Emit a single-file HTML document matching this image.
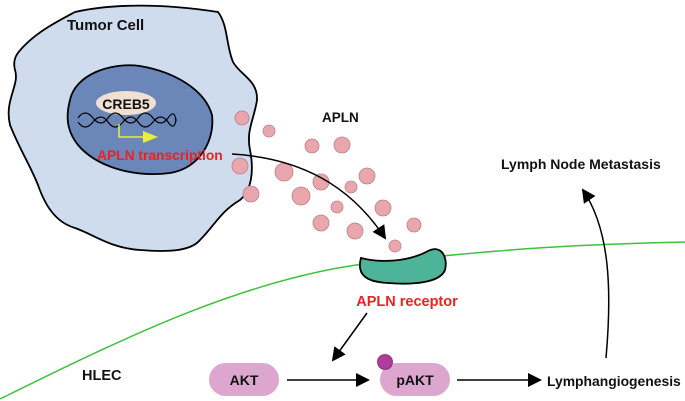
<!DOCTYPE html>
<html><head><meta charset="utf-8"><style>
html,body{margin:0;padding:0;background:#fff;}
svg{display:block;font-family:"Liberation Sans",Arial,sans-serif;font-weight:bold;}
</style></head><body>
<svg width="685" height="401" viewBox="0 0 685 401" xmlns="http://www.w3.org/2000/svg">
<defs>
<marker id="ah2" markerWidth="14" markerHeight="14" refX="12" refY="7" orient="auto" markerUnits="userSpaceOnUse"><path d="M0,0 L14,7 L0,14 Z" fill="#000"/></marker>
</defs>
<path d="M0,399 C120,340 250,275 380,262 S560,245 685,242" fill="none" stroke="#3cc23c" stroke-width="1.5"/>
<path d="M25,45 C40,30 60,20 75,12 C110,4 160,3 218,12 C228,25 226,45 233,62 C240,75 258,80 257,100 C254,120 246,130 250,150 C254,170 252,190 240,200 C220,212 215,225 200,240 C190,252 165,252 140,250 C110,248 95,235 75,228 C55,222 45,205 38,185 C30,165 20,150 10,125 C4,100 20,85 15,70 C12,58 18,52 25,45 Z" fill="#cedcee" stroke="#000" stroke-width="1.8"/>
<path d="M70,100 C75,75 110,62 140,66 C175,72 205,90 212,115 C215,140 200,168 170,173 C130,178 95,165 78,145 C66,130 66,115 70,100 Z" fill="#6b86b8" stroke="#000" stroke-width="1.8"/>
<ellipse cx="126" cy="103" rx="30" ry="12" fill="#f0dfd3"/>
<text x="126" y="109" font-size="14" text-anchor="middle" fill="#111">CREB5</text>
<path d="M78,118 Q85,108 93,118 T108,118 T123,118 T138,118 T153,118 T168,118 T176,122" fill="none" stroke="#000" stroke-width="1.2"/>
<path d="M78,122 Q85,132 93,122 T108,122 T123,122 T138,122 T153,122 T168,122 T176,118" fill="none" stroke="#000" stroke-width="1.2"/>
<path d="M119,124 V137 H145" fill="none" stroke="#e6f03a" stroke-width="1.5"/>
<path d="M143,131 L158,137 L143,143 Z" fill="#e6f03a"/>
<text x="97" y="160" font-size="13.8" fill="#ee2020">APLN transcription</text>
<text x="67" y="30" font-size="15" fill="#111">Tumor Cell</text>
<g fill="#e9a6ad" stroke="#b98088" stroke-width="0.8">
<circle cx="242" cy="118" r="7"/><circle cx="269" cy="131" r="6"/><circle cx="312" cy="146" r="7"/><circle cx="342" cy="145" r="8"/>
<circle cx="240" cy="166" r="8"/><circle cx="284" cy="172" r="9"/><circle cx="321" cy="182" r="8"/><circle cx="351" cy="187" r="6"/>
<circle cx="367" cy="176" r="8"/><circle cx="251" cy="194" r="8"/><circle cx="301" cy="196" r="9"/><circle cx="337" cy="207" r="6"/>
<circle cx="383" cy="208" r="8"/><circle cx="321" cy="223" r="8"/><circle cx="355" cy="231" r="8"/><circle cx="414" cy="225" r="7"/><circle cx="395" cy="246" r="6"/>
</g>
<text x="322" y="122" font-size="13.5" fill="#111">APLN</text>
<path d="M232,154 C300,158 350,185 385,238" fill="none" stroke="#000" stroke-width="1.5" marker-end="url(#ah2)"/>
<path d="M361,258 C380,263 408,262 428,251 C442,244 448,258 445,270 C440,283 412,285 388,283 C368,282 356,276 361,258 Z" fill="#4db399" stroke="#000" stroke-width="1.8"/>
<text x="407" y="306" font-size="14.5" fill="#ee2020" text-anchor="middle">APLN receptor</text>
<path d="M367,313 L333,360" fill="none" stroke="#000" stroke-width="1.5" marker-end="url(#ah2)"/>
<rect x="209" y="363" width="70" height="33" rx="16.5" fill="#dca6ce"/>
<text x="244" y="385" font-size="14" text-anchor="middle" fill="#111">AKT</text>
<rect x="380" y="363" width="70" height="33" rx="16.5" fill="#dca6ce"/>
<text x="415" y="385" font-size="14" text-anchor="middle" fill="#111">pAKT</text>
<circle cx="385" cy="362" r="7.5" fill="#b13c9b" stroke="#7a2568" stroke-width="0.8"/>
<path d="M287,380 L368,380" stroke="#000" stroke-width="1.5" marker-end="url(#ah2)"/>
<path d="M457,380 L540,380" stroke="#000" stroke-width="1.5" marker-end="url(#ah2)"/>
<text x="547" y="386" font-size="13.9" fill="#111">Lymphangiogenesis</text>
<path d="M606,358 C612,290 610,230 583,190" fill="none" stroke="#000" stroke-width="1.5" marker-end="url(#ah2)"/>
<text x="501" y="169" font-size="14" fill="#111">Lymph Node Metastasis</text>
<text x="82" y="380" font-size="14.5" fill="#111">HLEC</text>
</svg>
</body></html>
